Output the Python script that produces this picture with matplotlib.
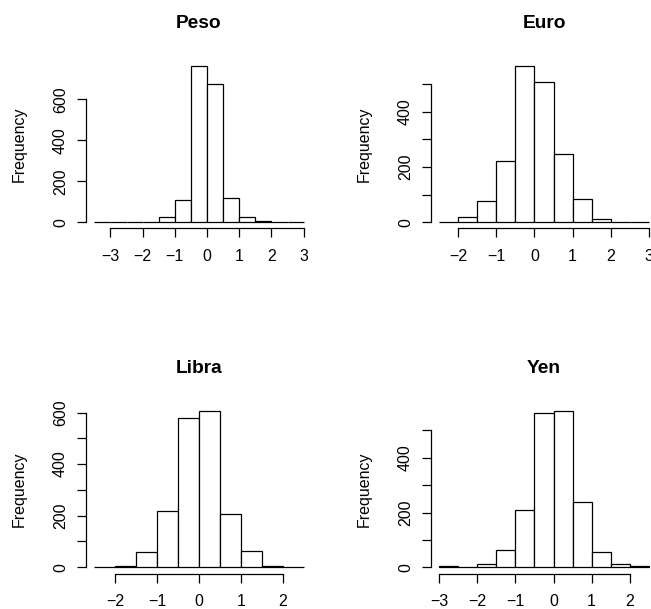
import numpy as np
import matplotlib
matplotlib.use("Agg")
import matplotlib.pyplot as plt

# ---- data (bin width 0.5) ----
bin_width = 0.5

peso_start = -3.5
peso_counts = [1, 1, 3, 3, 24, 111, 762, 677, 119, 28, 5, 3, 1]
peso_xticks = [-3, -2, -1, 0, 1, 2, 3]
peso_yticks = [0, 200, 400, 600]
peso_ylabels = ["0", "200", "400", "600"]

euro_start = -2.5
euro_counts = [2, 18, 78, 221, 565, 508, 249, 85, 11, 1, 2]
euro_xticks = [-2, -1, 0, 1, 2, 3]
euro_yticks = [0, 100, 200, 300, 400, 500]
euro_ylabels = ["0", "", "200", "", "400", ""]

libra_start = -2.5
libra_counts = [1, 5, 58, 219, 580, 605, 205, 62, 4, 1]
libra_xticks = [-2, -1, 0, 1, 2]
libra_yticks = [0, 100, 200, 300, 400, 500, 600]
libra_ylabels = ["0", "", "200", "", "400", "", "600"]

yen_start = -3.0
yen_counts = [4, 2, 13, 63, 211, 565, 570, 237, 54, 13, 4]
yen_xticks = [-3, -2, -1, 0, 1, 2]
yen_yticks = [0, 100, 200, 300, 400, 500]
yen_ylabels = ["0", "", "200", "", "400", ""]

titles = ["Peso", "Euro", "Libra", "Yen"]

panels = [
    (titles[0], peso_start, peso_counts, peso_xticks, peso_yticks, peso_ylabels),
    (titles[1], euro_start, euro_counts, euro_xticks, euro_yticks, euro_ylabels),
    (titles[2], libra_start, libra_counts, libra_xticks, libra_yticks, libra_ylabels),
    (titles[3], yen_start, yen_counts, yen_xticks, yen_yticks, yen_ylabels),
]

# ---- layout (pixels) ----
W, H = 651, 609
plt.rcParams["font.family"] = ["Liberation Sans", "DejaVu Sans"]
fig = plt.figure(figsize=(W / 100, H / 100), dpi=100)
fig.patch.set_facecolor("white")

pw, ph = 226, 168.5
lefts = [86, 431, 86, 431]
tops = [60, 60, 405, 405]

FS = 11.5
for (title, start, counts, xt, yt, yl), L, T in zip(panels, lefts, tops):
    ax = fig.add_axes([L / W, 1 - (T + ph) / H, pw / W, ph / H])
    n = len(counts)
    edges = start + bin_width * np.arange(n + 1)
    ax.bar(edges[:-1], counts, width=bin_width, align="edge",
           facecolor="white", edgecolor="black", linewidth=0.9)
    lo, hi = edges[0], edges[-1]
    r = hi - lo
    ax.set_xlim(lo - 0.04 * r, hi + 0.04 * r)
    m = max(counts)
    ax.set_ylim(-0.04 * m, 1.04 * m)

    for s in ["top", "right"]:
        ax.spines[s].set_visible(False)
    ax.spines["left"].set_bounds(yt[0], yt[-1])
    ax.spines["bottom"].set_bounds(xt[0], xt[-1])
    for s in ["left", "bottom"]:
        ax.spines[s].set_linewidth(0.9)

    ax.set_xticks(xt)
    ax.set_xticklabels([str(v).replace("-", "\u2212") for v in xt], fontsize=FS)
    ax.set_yticks(yt)
    ax.set_yticklabels(yl, fontsize=FS, rotation=90, va="center")
    ax.tick_params(axis="both", direction="out", length=6.5, width=0.9)
    ax.tick_params(axis="x", pad=8.5)
    ax.tick_params(axis="y", pad=6.5)

    ax.set_ylabel("Frequency", fontsize=FS, va="center")
    ax.yaxis.set_label_coords(-67 / pw, 0.5)
    ax.text(0.5, 1 + 32 / ph, title, transform=ax.transAxes, ha="center",
            va="baseline", fontsize=13.8, fontweight="bold")
    ax.set_facecolor("none")

fig.savefig("out.png", dpi=100)
